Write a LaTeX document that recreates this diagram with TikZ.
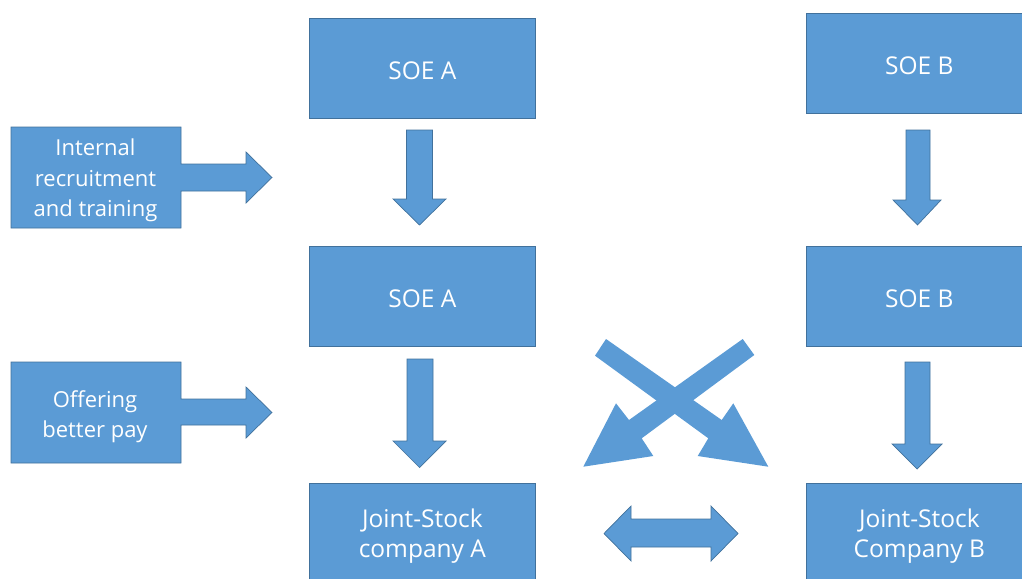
\documentclass[tikz,border=0pt]{standalone}
\usepackage{fontspec}
\setmainfont{Open Sans}
\definecolor{boxfill}{HTML}{5B9BD5}
\definecolor{boxline}{HTML}{41719C}
\begin{document}
\begin{tikzpicture}[x=1pt,y=-1pt,
  shapefill/.style={fill=boxfill, draw=boxline, line width=0.7pt, line join=miter},
  plainfill/.style={fill=boxfill},
  blockbox/.style={shapefill, rectangle, minimum width=226pt, minimum height=100pt,
    inner sep=0pt, anchor=north west},
  boxtext/.style={text=white, font=\fontsize{24.5}{30}\selectfont, align=center,
    inner sep=0pt, yshift=-2.5pt},
  sidetext/.style={text=white, font=\fontsize{22}{30.5}\selectfont, align=center,
    inner sep=0pt}]
\useasboundingbox (0,0) rectangle (1022,578);
\clip (0,0) rectangle (1022,578);

% main boxes
\node[blockbox] (soeA1) at (309,18)  {};
\node[blockbox] (soeA2) at (309,246) {};
\node[blockbox] (jsA)   at (309,483) {};
\node[blockbox] (soeB1) at (806,13)  {};
\node[blockbox] (soeB2) at (806,246) {};
\node[blockbox] (jsB)   at (806,483) {};
\node[boxtext] (tA1) at (soeA1.center) {SOE A};
\node[boxtext] (tA2) at (soeA2.center) {SOE A};
\node[boxtext] (tA3) at (jsA.center)   {Joint-Stock\\company A};
\node[boxtext] (tB1) at (soeB1.center) {SOE B};
\node[boxtext] (tB2) at (soeB2.center) {SOE B};
\node[boxtext] (tB3) at (jsB.center)   {Joint-Stock\\Company B};

% arrow callouts on the left
\draw[shapefill] (11,127) -- (181,127) -- (181,164) -- (246,164) -- (246,152)
  -- (272,177.5) -- (246,203) -- (246,191) -- (181,191) -- (181,228) -- (11,228) -- cycle;
\node[sidetext] (recruit) at (95.5,180.5) {Internal\\recruitment\\and training};

\draw[shapefill] (11,362) -- (181,362) -- (181,399) -- (246,399) -- (246,387)
  -- (272,412.5) -- (246,438) -- (246,425) -- (181,425) -- (181,463) -- (11,463) -- cycle;
\node[sidetext] (pay) at (95,416.5) {Offering\\better pay};

% downward block arrows
\draw[shapefill] (406.5,130) -- (432.5,130) -- (432.5,199) -- (446,199) -- (419.5,225)
  -- (393,199) -- (406.5,199) -- cycle;
\draw[shapefill] (407,359) -- (433,359) -- (433,441) -- (446,441) -- (419.5,467.5)
  -- (393,441) -- (407,441) -- cycle;
\draw[shapefill] (906,130) -- (930,130) -- (930,200) -- (941,200) -- (917.5,225)
  -- (893,200) -- (906,200) -- cycle;
\draw[shapefill] (905,362) -- (930,362) -- (930,444) -- (942,444) -- (917,469)
  -- (892,444) -- (905,444) -- cycle;

% two-way arrow between the joint-stock companies
\draw[shapefill] (604,533.5) -- (631,506) -- (631,519) -- (711,519) -- (711,506)
  -- (738,533.5) -- (711,561) -- (711,547) -- (631,547) -- (631,561) -- cycle;

% crossing arrows
\fill[plainfill] (742.7,339) -- (629,420) -- (616,403.3) -- (583.3,466.7) -- (653.3,456)
  -- (641.7,438.3) -- (754.3,355) -- cycle;
\fill[plainfill] (606,339) -- (721.7,420) -- (733.3,403.3) -- (768.3,466.7) -- (697.7,456)
  -- (708.3,438.3) -- (595,355.7) -- cycle;
\end{tikzpicture}
\end{document}
